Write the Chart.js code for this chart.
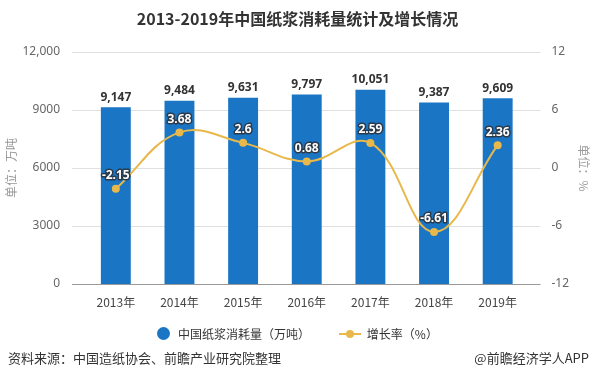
<!DOCTYPE html>
<html>
<head>
<meta charset="utf-8">
<script src="https://cdn.jsdelivr.net/npm/chart.js@4.4.1/dist/chart.umd.min.js"></script>
<style>
  body { margin: 0; background: #fff; font-family: "Noto Sans CJK SC", "Noto Sans", sans-serif; }
  #wrap { position: relative; width: 595px; height: 385px; overflow: hidden; }
  #grafico { position: absolute; left: 0; top: 0; }
  .titulo { position: absolute; top: 6px; left: 0; width: 595px; text-align: center; font-size: 16px; font-weight: bold; color: #333; }
  .legenda { position: absolute; top: 323px; left: 0; width: 595px; text-align: center; font-size: 12px; color: #333; }
  .legenda span { display: inline-block; vertical-align: middle; }
  .fonte { position: absolute; top: 348px; left: 8px; font-size: 13px; color: #333; }
  .marca { position: absolute; top: 348px; right: 6px; font-size: 13px; color: #333; }
</style>
</head>
<body>
<div id="wrap">
  <canvas id="grafico" width="595" height="385"></canvas>
  <div class="titulo">2013-2019年中国纸浆消耗量统计及增长情况</div>
  <div class="legenda">
    <span style="width:13px;height:13px;border-radius:50%;background:#1a75c4;margin-right:8px"></span><span>中国纸浆消耗量（万吨）</span>
    <span style="position:relative;width:22px;height:10px;margin-left:26px;margin-right:6px">
      <span style="position:absolute;left:0;top:4px;width:22px;height:2px;background:#e8b84b"></span>
      <span style="position:absolute;left:7px;top:1px;width:8px;height:8px;border-radius:50%;background:#e8b84b"></span>
    </span><span>增长率（%）</span>
  </div>
  <div class="fonte">资料来源：中国造纸协会、前瞻产业研究院整理</div>
  <div class="marca">@前瞻经济学人APP</div>
</div>
<script>
const anos = ['2013年', '2014年', '2015年', '2016年', '2017年', '2018年', '2019年'];
const consumo = [9147, 9484, 9631, 9797, 10051, 9387, 9609];
const crescimento = [-2.15, 3.68, 2.6, 0.68, 2.59, -6.61, 2.36];
const ticksEsquerda = [0, 3000, 6000, 9000, 12000];
const ticksDireita = [-12, -6, 0, 6, 12];

const corBarra = '#1a75c4';
const corLinha = '#e8b84b';

// grade horizontal um pouco mais larga que a area das categorias
const gradePlugin = {
  id: 'grade',
  beforeDatasetsDraw(chart) {
    const c = chart.ctx, y = chart.scales.y, a = chart.chartArea;
    c.save();
    y.ticks.forEach(t => {
      const py = Math.round(y.getPixelForValue(t.value)) + 0.5;
      c.strokeStyle = t.value === 0 ? '#999' : '#e0e0e0';
      c.lineWidth = 1;
      c.beginPath();
      c.moveTo(a.left - 12, py);
      c.lineTo(a.right + 11, py);
      c.stroke();
    });
    c.restore();
  },
  afterDatasetsDraw(chart) {
    const c = chart.ctx;
    c.save();
    c.textAlign = 'center';
    c.textBaseline = 'middle';
    // rotulos das barras
    c.font = 'bold 12px "Noto Sans", "DejaVu Sans", sans-serif';
    c.fillStyle = '#333';
    chart.getDatasetMeta(0).data.forEach((el, i) => {
      c.fillText(consumo[i].toLocaleString('en-US'), el.x, el.y - 10);
    });
    // rotulos da linha
    c.lineJoin = 'round';
    chart.getDatasetMeta(1).data.forEach((el, i) => {
      const txt = String(crescimento[i]);
      c.lineWidth = 3;
      c.strokeStyle = '#2b3a4a';
      c.strokeText(txt, el.x, el.y - 13);
      c.fillStyle = '#fff';
      c.fillText(txt, el.x, el.y - 13);
    });
    c.restore();
  }
};

const ctx = document.getElementById('grafico').getContext('2d');
const myChart = new Chart(ctx, {
  data: {
    labels: anos,
    datasets: [
      {
        type: 'bar',
        label: '中国纸浆消耗量（万吨）',
        data: consumo,
        backgroundColor: corBarra,
        yAxisID: 'y',
        barPercentage: 0.47,
        categoryPercentage: 1,
        order: 2
      },
      {
        type: 'line',
        label: '增长率（%）',
        data: crescimento,
        borderColor: corLinha,
        backgroundColor: corLinha,
        borderWidth: 2,
        pointRadius: 4,
        pointBackgroundColor: corLinha,
        pointBorderWidth: 0,
        tension: 0.4,
        yAxisID: 'y1',
        order: 1
      }
    ]
  },
  options: {
    responsive: false,
    animation: false,
    layout: { padding: { top: 52, left: 0, right: 0, bottom: 0 } },
    plugins: { legend: { display: false }, tooltip: { enabled: false } },
    scales: {
      x: {
        grid: { display: false },
        border: { display: false },
        ticks: { color: '#444', font: { size: 12, family: '"Noto Sans CJK SC", sans-serif' }, padding: 3 },
        afterFit(s) { s.height = 101; }
      },
      y: {
        position: 'left',
        min: 0, max: 12000,
        afterBuildTicks(s) { s.ticks = ticksEsquerda.map(v => ({ value: v })); },
        grid: { display: false },
        border: { display: false },
        ticks: {
          color: '#666', padding: 16,
          font: { size: 12, family: '"Noto Sans", sans-serif' },
          callback: v => v === 12000 ? '12,000' : String(v)
        },
        title: { display: true, text: '单位：万吨', color: '#999', font: { size: 12, family: '"Noto Sans CJK SC", sans-serif' }, padding: { top: 4, bottom: 4 } },
        afterFit(s) { s.width = 84; }
      },
      y1: {
        position: 'right',
        min: -12, max: 12,
        afterBuildTicks(s) { s.ticks = ticksDireita.map(v => ({ value: v })); },
        grid: { display: false },
        border: { display: false },
        ticks: { color: '#666', padding: 14, font: { size: 12, family: '"Noto Sans", sans-serif' } },
        title: { display: true, text: '单位：%', color: '#999', font: { size: 12, family: '"Noto Sans CJK SC", sans-serif' }, padding: { top: 4, bottom: 4 } },
        afterFit(s) { s.width = 65.5; }
      }
    }
  },
  plugins: [gradePlugin]
});
</script>
</body>
</html>
